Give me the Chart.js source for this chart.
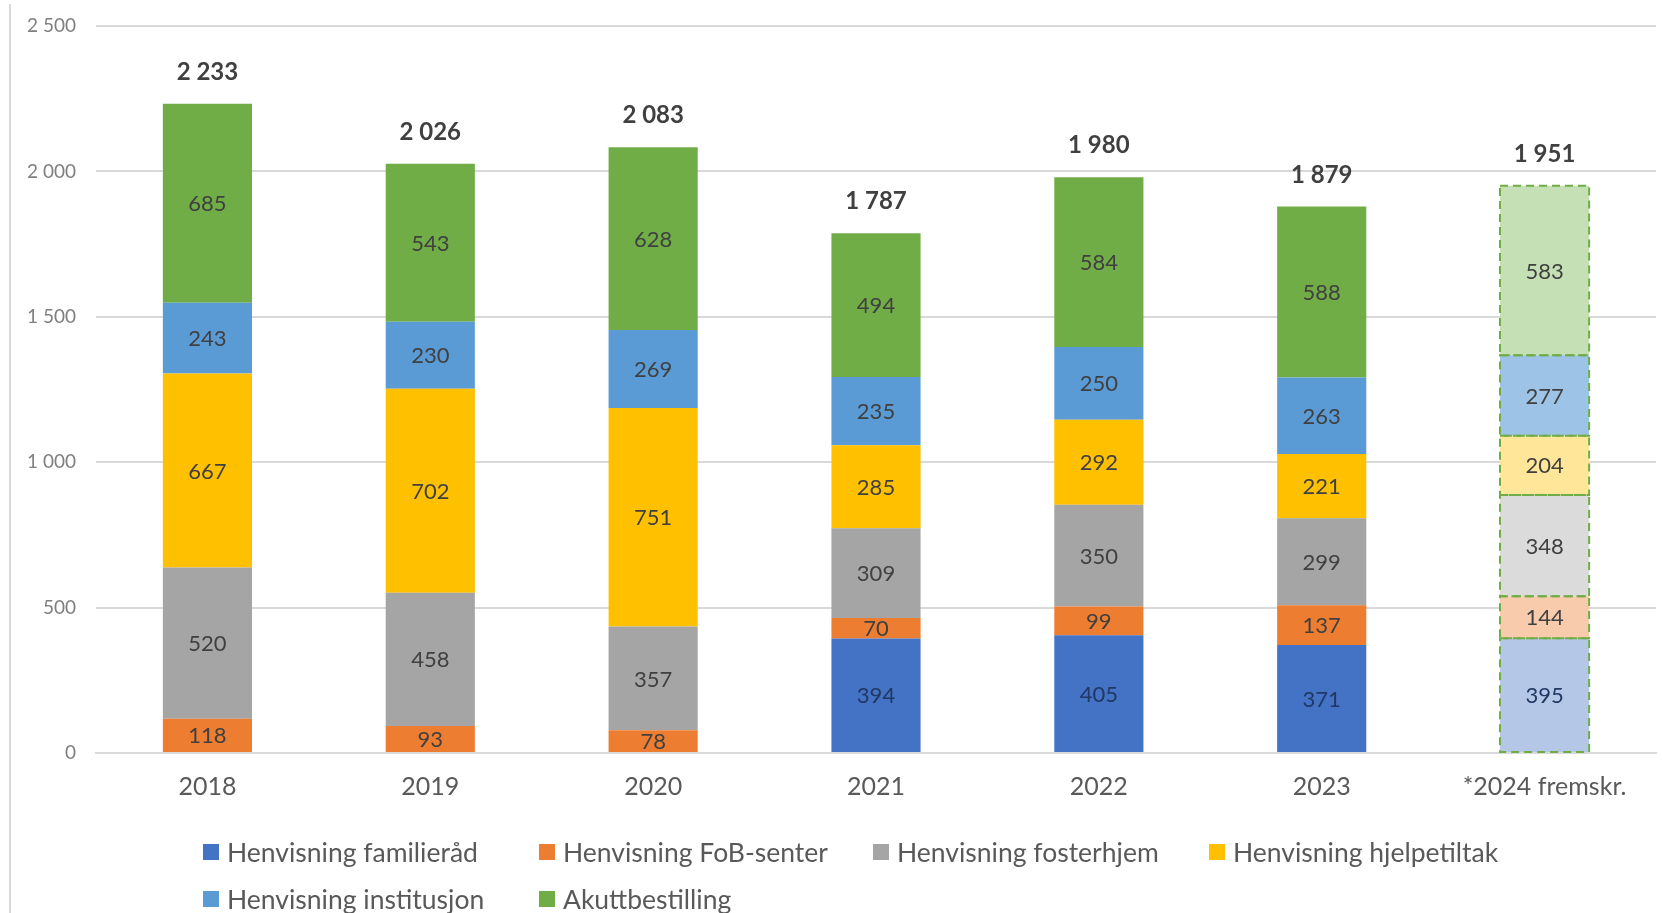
<!DOCTYPE html>
<html>
<head>
<meta charset="utf-8">
<script src="https://cdn.jsdelivr.net/npm/chart.js@4.4.1/dist/chart.umd.min.js"></script>
<style>
  html, body { margin: 0; padding: 0; background: #ffffff; }
  #wrap { position: relative; width: 1662px; height: 913px; }
</style>
</head>
<body>
<div id="wrap"><canvas id="c"></canvas></div>
<script>
const categories = ['2018', '2019', '2020', '2021', '2022', '2023', '*2024 fremskr.'];
const familierad   = [null, null, null, 394, 405, 371, 395];
const fobSenter    = [118, 93, 78, 70, 99, 137, 144];
const fosterhjem   = [520, 458, 357, 309, 350, 299, 348];
const hjelpetiltak = [667, 702, 751, 285, 292, 221, 204];
const institusjon  = [243, 230, 269, 235, 250, 263, 277];
const akutt        = [685, 543, 628, 494, 584, 588, 583];
const totals       = [2233, 2026, 2083, 1787, 1980, 1879, 1951];
const seriesNames  = ['Henvisning familieråd', 'Henvisning FoB-senter', 'Henvisning fosterhjem',
                      'Henvisning hjelpetiltak', 'Henvisning institusjon', 'Akuttbestilling'];
const yTicks = [0, 500, 1000, 1500, 2000, 2500];

const FONT = 'Lato, "Open Sans", "DejaVu Sans", sans-serif';
const baseColors  = ['#4472C4', '#ED7D31', '#A5A5A5', '#FFC000', '#5B9BD5', '#70AD47'];
const lightColors = ['#B4C7E7', '#F8CBAD', '#DBDBDB', '#FFE699', '#9DC3E6', '#C5E0B4'];
const forecastIndex = 6;

function fmt(v) { return String(v).replace(/\B(?=(\d{3})+(?!\d))/g, ' '); }

const seriesData = [familierad, fobSenter, fosterhjem, hjelpetiltak, institusjon, akutt];
const datasets = seriesData.map((d, i) => ({
  label: seriesNames[i],
  data: d,
  backgroundColor: categories.map((_, j) => j === forecastIndex ? lightColors[i] : baseColors[i]),
  borderWidth: 0,
  stack: 's',
  barPercentage: 0.4,
  categoryPercentage: 1.0
}));

const decorPlugin = {
  id: 'decor',
  beforeDraw(chart) {
    const ctx = chart.ctx;
    ctx.save();
    ctx.fillStyle = '#D9D9D9';
    ctx.fillRect(9, 4, 2, chart.height - 4);
    ctx.restore();
  },
  afterDatasetsDraw(chart) {
    const ctx = chart.ctx;
    ctx.save();
    chart.data.datasets.forEach((ds, di) => {
      const meta = chart.getDatasetMeta(di);
      const el = meta.data[forecastIndex];
      if (!el || ds.data[forecastIndex] == null) return;
      const p = el.getProps(['x', 'y', 'base', 'width'], true);
      ctx.setLineDash([8, 5]);
      ctx.lineWidth = 2;
      ctx.strokeStyle = '#70AD47';
      ctx.strokeRect(p.x - p.width / 2, p.y, p.width, p.base - p.y);
    });
    ctx.setLineDash([]);
    ctx.font = '22px ' + FONT;
    ctx.textAlign = 'center';
    ctx.textBaseline = 'middle';
    chart.data.datasets.forEach((ds, di) => {
      const meta = chart.getDatasetMeta(di);
      meta.data.forEach((el, j) => {
        const v = ds.data[j];
        if (v == null) return;
        const p = el.getProps(['x', 'y', 'base'], true);
        ctx.fillStyle = di === 0 ? '#1F3864' : '#404040';
        ctx.fillText(fmt(v), p.x, (p.y + p.base) / 2 + 1);
      });
    });
    ctx.font = 'bold 24px ' + FONT;
    ctx.textBaseline = 'alphabetic';
    ctx.fillStyle = '#404040';
    const yScale = chart.scales.y;
    const xScale = chart.scales.x;
    totals.forEach((t, j) => {
      const x = xScale.getPixelForValue(j);
      const y = yScale.getPixelForValue(t);
      ctx.fillText(fmt(t), x, y - 24);
    });
    ctx.restore();
  },
  afterDraw(chart) {
    const ctx = chart.ctx;
    ctx.save();
    ctx.font = '26.5px ' + FONT;
    ctx.textBaseline = 'middle';
    ctx.textAlign = 'left';
    const colX = [203, 539, 873, 1209];
    const rowY = [852, 899];
    chart.data.datasets.forEach((ds, i) => {
      const x = colX[i % 4];
      const y = rowY[Math.floor(i / 4)];
      ctx.fillStyle = baseColors[i];
      ctx.fillRect(x, y - 8, 16, 16);
      ctx.fillStyle = '#595959';
      ctx.fillText(ds.label, x + 24, y + 1);
    });
    ctx.restore();
  }
};

new Chart(document.getElementById('c'), {
  type: 'bar',
  data: { labels: categories, datasets },
  options: {
    responsive: true,
    maintainAspectRatio: false,
    devicePixelRatio: 1,
    animation: false,
    layout: { padding: { left: 0, right: 6, top: 26, bottom: 0 } },
    plugins: { legend: { display: false }, tooltip: { enabled: false } },
    scales: {
      x: {
        stacked: true,
        grid: { display: false, drawTicks: false },
        border: { display: true, color: '#D9D9D9', width: 2 },
        ticks: { color: '#595959', font: { family: FONT, size: 25 }, padding: 19, maxRotation: 0 },
        afterFit(scale) { scale.height = 160; }
      },
      y: {
        stacked: true,
        min: 0, max: 2500,
        afterBuildTicks(scale) { scale.ticks = yTicks.map(v => ({ value: v })); },
        grid: { color: '#D9D9D9', lineWidth: 2, drawTicks: true, tickLength: 20, tickColor: 'rgba(0,0,0,0)' },
        border: { display: false },
        ticks: { color: '#7F7F7F', font: { family: FONT, size: 19 }, padding: 0, callback: v => fmt(v) },
        afterFit(scale) { scale.width = 96; }
      }
    }
  },
  plugins: [decorPlugin]
});
</script>
</body>
</html>
